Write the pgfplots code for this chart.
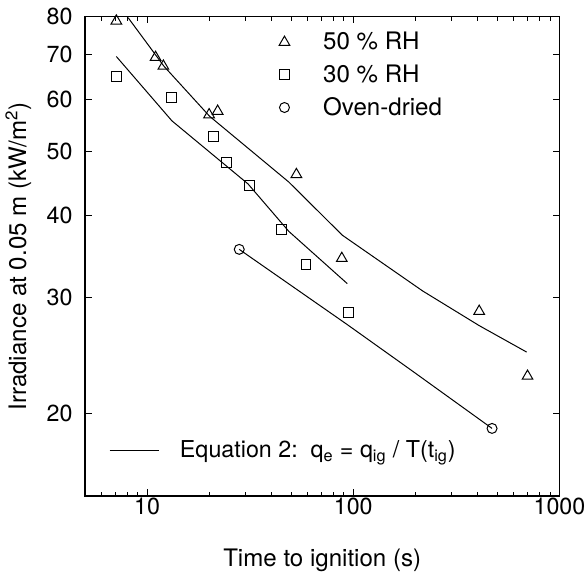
\documentclass[border=0pt]{standalone}
\usepackage{pgfplots}
\pgfplotsset{compat=1.18}
\usepackage{fontspec}
\setmainfont{TeX Gyre Heros}

\pgfplotsset{
  firebox/.style={
    width=285.6pt, height=288.6pt,
    scale only axis,
    xmin=5, xmax=1000, ymin=15, ymax=80,
  },
  markleg/.style={legend image code/.code={\path[draw=none] (0cm,0cm) -- (1.4cm,0cm);
    \path[##1] plot coordinates {(0.65cm,0cm)};}},
}

\begin{document}
\begin{tikzpicture}
\begin{loglogaxis}[firebox,
  axis line style={line width=0.9pt},
  tick align=inside,
  major tick length=4pt, minor tick length=2.5pt,
  tick style={black, line width=0.6pt},
  xtick={10,100,1000}, xticklabels={10,100,1000},
  minor xtick={6,7,8,9,20,30,40,50,60,70,80,90,200,300,400,500,600,700,800,900},
  ytick={20,30,40,50,60,70,80}, yticklabels={20,30,40,50,60,70,80},
  yminorticks=false,
  /pgf/number format/assume math mode=true,
  ticklabel style={font=\fontsize{14}{16}\selectfont, inner sep=1pt},
  xticklabel style={yshift=0pt},
  yticklabel style={xshift=-6.3pt},
  label style={font=\fontsize{14.5}{16}\selectfont},
  xlabel={Time to ignition (s)},
  ylabel={Irradiance at 0.05 m (kW/m\textsuperscript{2})},
  xlabel style={inner sep=0pt, yshift=-19pt},
  ylabel style={yshift=4.7pt},
  legend style={at={(0.355,0.975)}, anchor=north west, draw=none, fill=none,
    inner sep=0pt, row sep=3.5pt, font=\fontsize{14.5}{16}\selectfont,
    cells={anchor=west}},
]
% 50 % RH
\addplot[only marks, mark=triangle, mark size=3.7pt, mark options={line width=0.6pt}, markleg] coordinates {
(7.1,78.8) (11,69.4) (12,67.3) (20,56.8) (22,57.5) (53,46.1) (88,34.4) (408,28.6) (700,22.8)
};
\addlegendentry{50 \% RH}
% 30 % RH
\addplot[only marks, mark=square, mark size=3pt, mark options={line width=0.6pt}, markleg] coordinates {
(7.1,64.9) (13.2,60.4) (21,52.6) (24.3,48.0) (31.3,44.3) (45,38.0) (59,33.7) (94.6,28.5)
};
\addlegendentry{30 \% RH}
% oven-dried
\addplot[only marks, mark=o, mark size=3pt, mark options={line width=0.6pt}, markleg] coordinates {
(28,35.5) (471,19.0)
};
\addlegendentry{Oven-dried}
\end{loglogaxis}

\begin{loglogaxis}[firebox, hide axis,
  legend style={at={(0.05,0.0956)}, anchor=west, draw=none, fill=none,
    inner sep=0pt, font=\fontsize{14}{16}\selectfont},
  legend image code/.code={\draw[#1] (0cm,0cm) -- (1.05cm,0cm);
    \path[draw=none] (1.05cm,0cm) -- (1.42cm,0cm);},
]
\addplot[black, line width=0.6pt] coordinates {
(8.1,79.7) (12.07,67.3) (20.1,56.5) (48.7,44.9) (88.5,37.3) (217,30.7) (408,27.2) (693,24.8)
};
\addlegendentry{Equation 2:\ \ q\textsubscript{e} = q\textsubscript{ig} / T(t\textsubscript{ig})}
\addplot[black, line width=0.6pt, forget plot] coordinates {
(7.1,69.6) (13.2,55.6) (30.9,44.6) (48.7,37.8) (93.5,31.5)
};
\addplot[black, line width=0.6pt, forget plot] coordinates {
(28,35.5) (93.5,27.3) (194,23.2) (471,19.0)
};
\end{loglogaxis}
% white margin above the frame, as in the scan
\path ([yshift=10pt]current axis.north);
\end{tikzpicture}
\end{document}
